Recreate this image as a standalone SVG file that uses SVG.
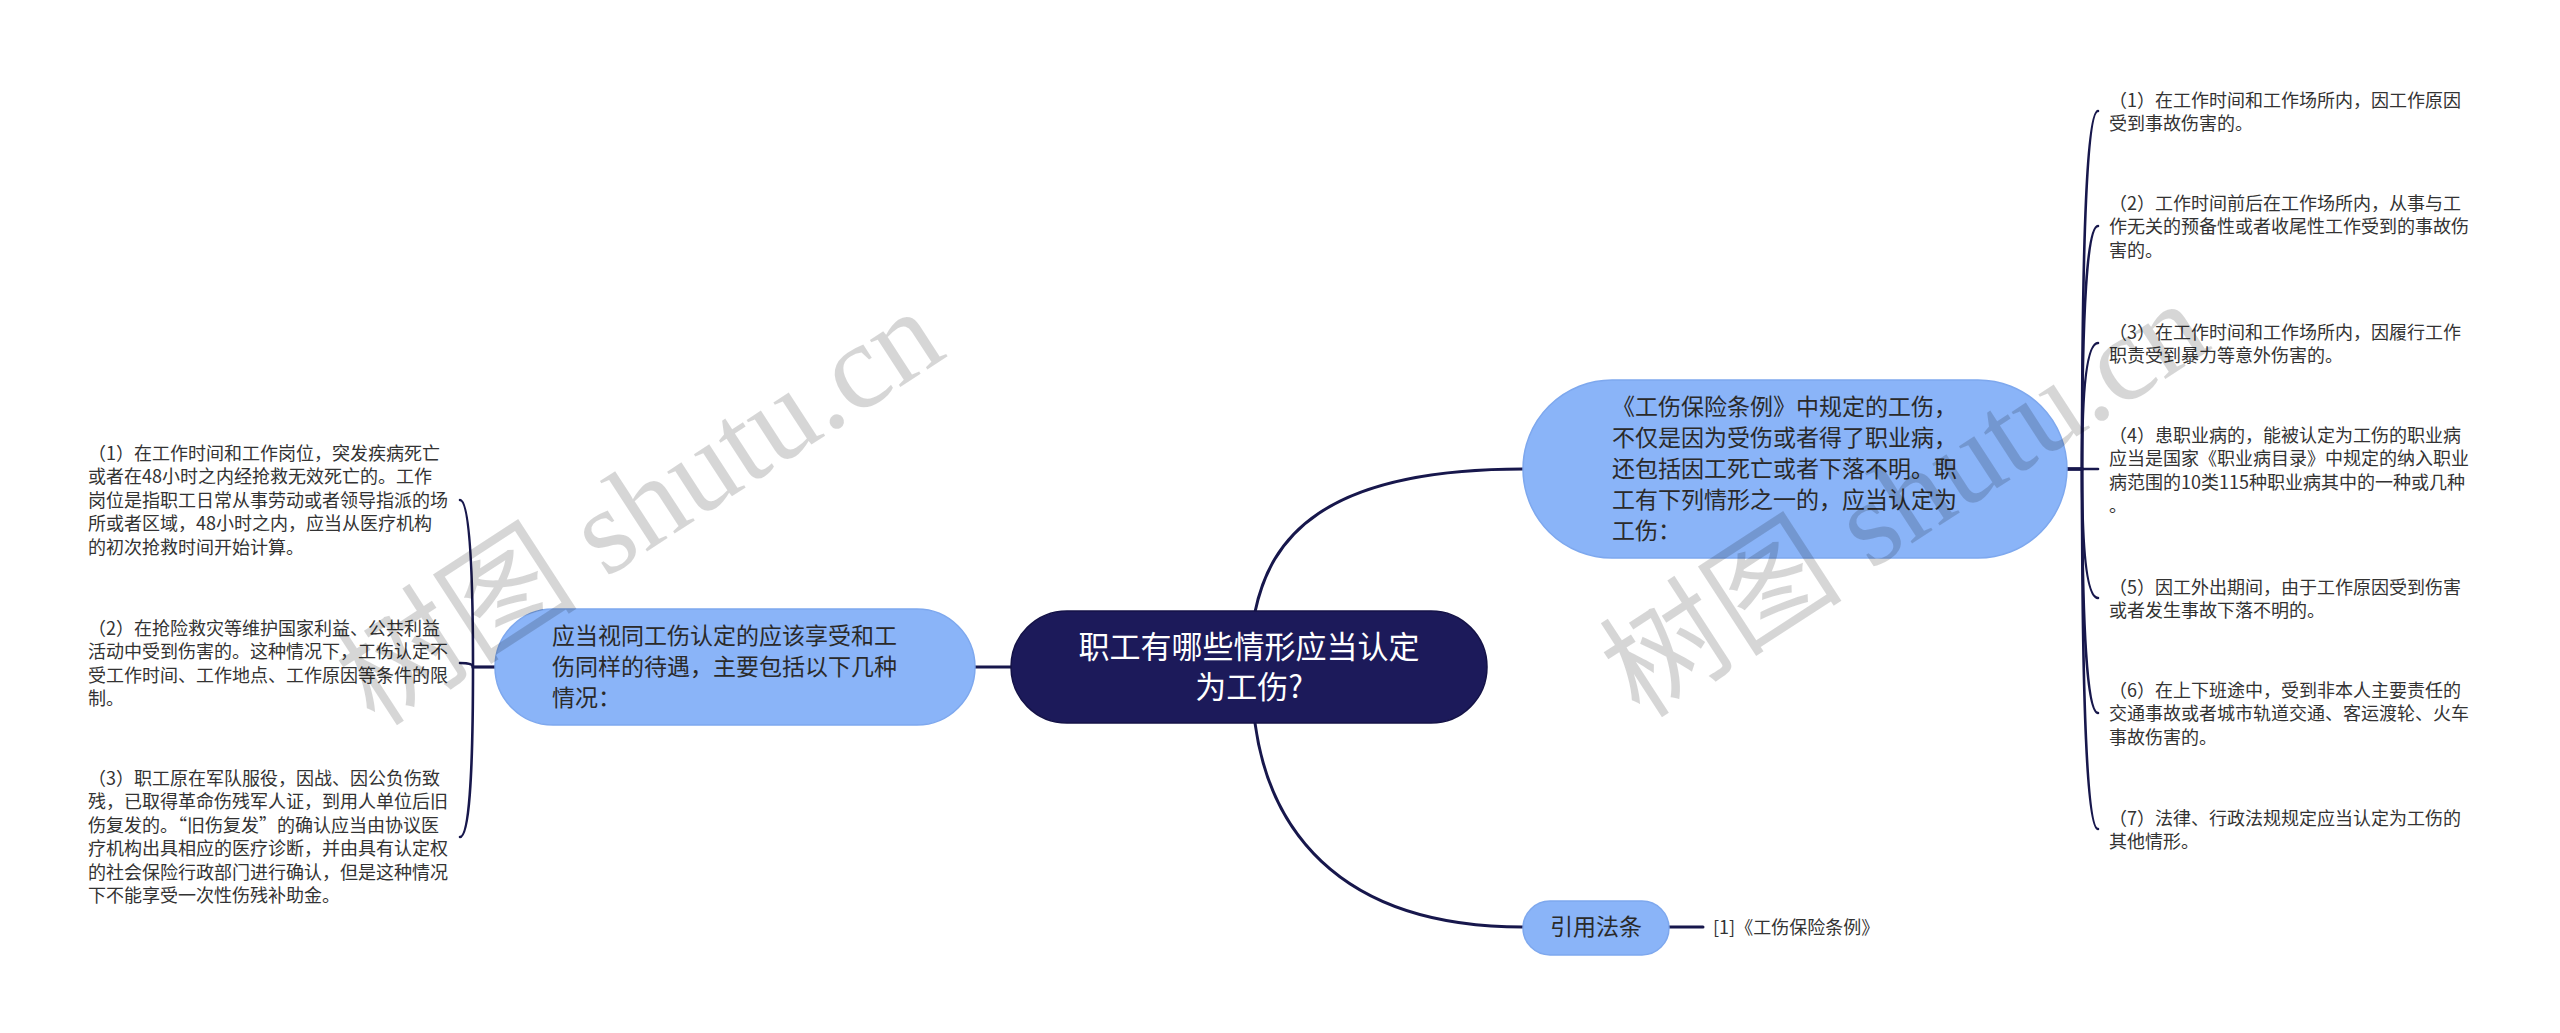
<svg xmlns="http://www.w3.org/2000/svg" width="2560" height="1033" viewBox="0 0 2560 1033">
<style>
.bg{fill:#ffffff}
.conn{fill:none;stroke:#17174c;stroke-width:3;stroke-linecap:round}
.br{fill:none;stroke:#17174c;stroke-width:2.6;stroke-linecap:round}
.root{fill:#1c1a5a;stroke:#141247;stroke-width:1.5}
.sub{fill:#8ab4f8;stroke:#7ea8ee;stroke-width:1.5}
.t{font-family:"Noto Sans CJK SC","Noto Sans",sans-serif}
.rootT{font-size:31px;fill:#ffffff}
.subT{font-size:23px;fill:#2a2a2a}
.leafT{font-size:18px;fill:#333333}
.wm{font-size:122px;fill:#000000;fill-opacity:0.16}
</style>
<rect class="bg" x="0" y="0" width="2560" height="1033"/>

<g id="connectors">
  <path class="conn" d="M1255 612 C1270 540 1320 469 1523 469"/>
  <path class="conn" d="M1255 723 C1268 820 1330 927 1523 927"/>
  <path class="conn" d="M975 667 H1011"/>
  <path class="conn" d="M1669 927 H1703"/>
  <path class="br" d="M2067 469 H2082 Q2082 111 2098 111"/>
  <path class="br" d="M2067 469 H2082 Q2082 226 2098 226"/>
  <path class="br" d="M2067 469 H2082 Q2082 343 2098 343"/>
  <path class="br" d="M2067 469 H2098"/>
  <path class="br" d="M2067 469 H2082 Q2082 598 2098 598"/>
  <path class="br" d="M2067 469 H2082 Q2082 713 2098 713"/>
  <path class="br" d="M2067 469 H2082 Q2082 829 2098 829"/>
  <path class="br" d="M495 667 H473 Q473 500 460 500"/>
  <path class="br" d="M495 667 H473 Q473 663 460 663"/>
  <path class="br" d="M495 667 H473 Q473 837 460 837"/>
</g>

<g id="root">
  <rect class="root" x="1011" y="611" width="476" height="112" rx="56"/>
  <text class="t rootT" text-anchor="middle"><tspan x="1249" y="658">职工有哪些情形应当认定</tspan><tspan x="1249" y="698">为工伤?</tspan></text>
</g>

<g id="right-main">
  <rect class="sub" x="1523" y="380" width="544" height="178" rx="89"/>
  <text class="t subT"><tspan x="1612" y="415">《工伤保险条例》中规定的工伤，</tspan><tspan x="1612" y="446">不仅是因为受伤或者得了职业病，</tspan><tspan x="1612" y="477">还包括因工死亡或者下落不明。职</tspan><tspan x="1612" y="508">工有下列情形之一的，应当认定为</tspan><tspan x="1612" y="539">工伤：</tspan></text>
</g>

<g id="left-main">
  <rect class="sub" x="495" y="609" width="480" height="116" rx="58"/>
  <text class="t subT"><tspan x="552" y="644">应当视同工伤认定的应该享受和工</tspan><tspan x="552" y="675">伤同样的待遇，主要包括以下几种</tspan><tspan x="552" y="706">情况：</tspan></text>
</g>

<g id="law-node">
  <rect class="sub" x="1523" y="901" width="146" height="54" rx="27"/>
  <text class="t subT" x="1596" y="935" text-anchor="middle">引用法条</text>
</g>

<g id="law-leaf">
  <text class="t leafT" x="1713" y="934">[1]《工伤保险条例》</text>
</g>

<g id="r1"><text class="t leafT"><tspan x="2109" y="106.5">（1）在工作时间和工作场所内，因工作原因</tspan><tspan x="2109" y="130">受到事故伤害的。</tspan></text></g>
<g id="r2"><text class="t leafT"><tspan x="2109" y="209.5">（2）工作时间前后在工作场所内，从事与工</tspan><tspan x="2109" y="233">作无关的预备性或者收尾性工作受到的事故伤</tspan><tspan x="2109" y="256.5">害的。</tspan></text></g>
<g id="r3"><text class="t leafT"><tspan x="2109" y="338.5">（3）在工作时间和工作场所内，因履行工作</tspan><tspan x="2109" y="362">职责受到暴力等意外伤害的。</tspan></text></g>
<g id="r4"><text class="t leafT"><tspan x="2109" y="441.5">（4）患职业病的，能被认定为工伤的职业病</tspan><tspan x="2109" y="465">应当是国家《职业病目录》中规定的纳入职业</tspan><tspan x="2109" y="488.5">病范围的10类115种职业病其中的一种或几种</tspan><tspan x="2109" y="512">。</tspan></text></g>
<g id="r5"><text class="t leafT"><tspan x="2109" y="593.5">（5）因工外出期间，由于工作原因受到伤害</tspan><tspan x="2109" y="617">或者发生事故下落不明的。</tspan></text></g>
<g id="r6"><text class="t leafT"><tspan x="2109" y="696.5">（6）在上下班途中，受到非本人主要责任的</tspan><tspan x="2109" y="720">交通事故或者城市轨道交通、客运渡轮、火车</tspan><tspan x="2109" y="743.5">事故伤害的。</tspan></text></g>
<g id="r7"><text class="t leafT"><tspan x="2109" y="824.5">（7）法律、行政法规规定应当认定为工伤的</tspan><tspan x="2109" y="848">其他情形。</tspan></text></g>

<g id="l1"><text class="t leafT"><tspan x="88" y="459.5">（1）在工作时间和工作岗位，突发疾病死亡</tspan><tspan x="88" y="483">或者在48小时之内经抢救无效死亡的。工作</tspan><tspan x="88" y="506.5">岗位是指职工日常从事劳动或者领导指派的场</tspan><tspan x="88" y="530">所或者区域，48小时之内，应当从医疗机构</tspan><tspan x="88" y="553.5">的初次抢救时间开始计算。</tspan></text></g>
<g id="l2"><text class="t leafT"><tspan x="88" y="634.5">（2）在抢险救灾等维护国家利益、公共利益</tspan><tspan x="88" y="658">活动中受到伤害的。这种情况下，工伤认定不</tspan><tspan x="88" y="681.5">受工作时间、工作地点、工作原因等条件的限</tspan><tspan x="88" y="705">制。</tspan></text></g>
<g id="l3"><text class="t leafT"><tspan x="88" y="784.5">（3）职工原在军队服役，因战、因公负伤致</tspan><tspan x="88" y="808">残，已取得革命伤残军人证，到用人单位后旧</tspan><tspan x="88" y="831.5">伤复发的。“旧伤复发”的确认应当由协议医</tspan><tspan x="88" y="855">疗机构出具相应的医疗诊断，并由具有认定权</tspan><tspan x="88" y="878.5">的社会保险行政部门进行确认，但是这种情况</tspan><tspan x="88" y="902">下不能享受一次性伤残补助金。</tspan></text></g>

<g id="watermarks">
  <text class="wm" transform="translate(375 728) rotate(-33)"><tspan style="font-family:'Noto Sans CJK SC',sans-serif">树图</tspan><tspan style="font-family:'Liberation Serif',serif"> shutu.cn</tspan></text>
  <text class="wm" transform="translate(1640 720) rotate(-33)"><tspan style="font-family:'Noto Sans CJK SC',sans-serif">树图</tspan><tspan style="font-family:'Liberation Serif',serif"> shutu.cn</tspan></text>
</g>
</svg>
